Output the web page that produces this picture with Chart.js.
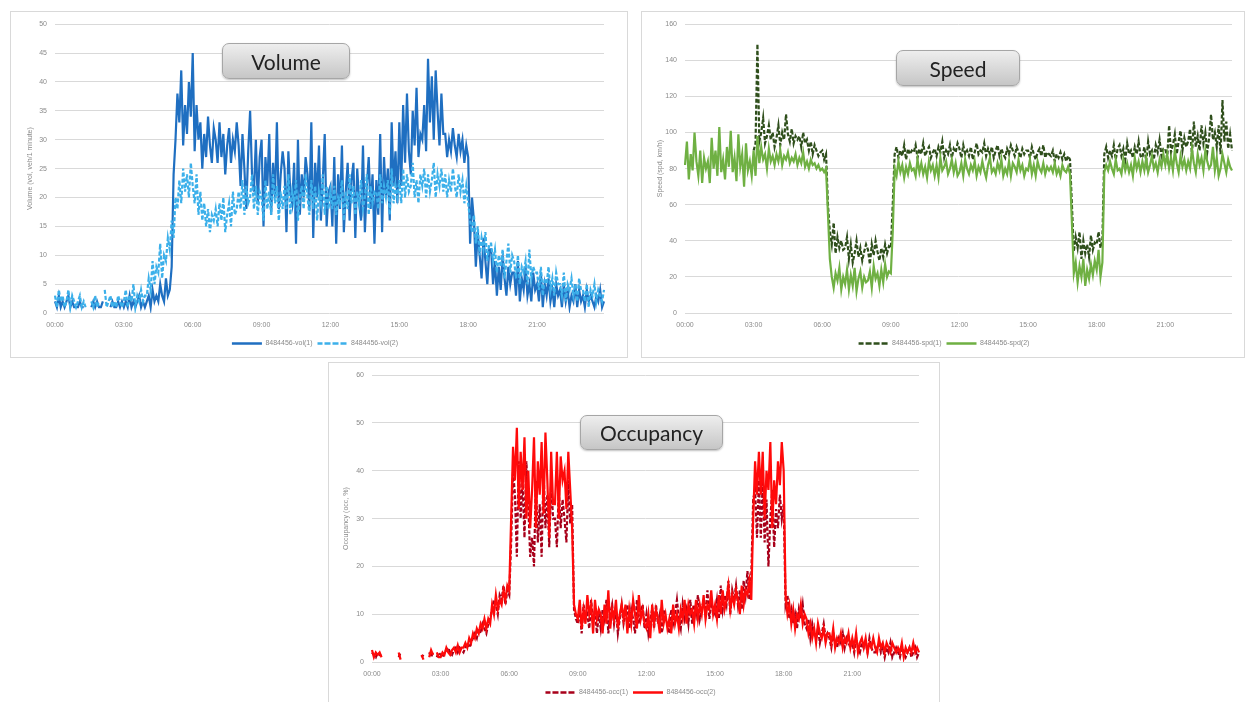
<!DOCTYPE html>
<html>
<head>
<meta charset="utf-8">
<script src="https://cdn.jsdelivr.net/npm/chart.js@4.4.1/dist/chart.umd.min.js"></script>
<style>
  html, body { margin: 0; padding: 0; background: #fff; width: 1246px; height: 702px; overflow: hidden; font-family: "Liberation Sans", Arial, sans-serif; }
  .panel { position: absolute; border: 1px solid #d9d9d9; box-sizing: border-box; background: #fff; }
  .panel canvas { position: absolute; left: 0; top: 0; }
  .tag { position: absolute; box-sizing: border-box; border: 1px solid #a6a6a6; border-radius: 7px;
         background: linear-gradient(#eeeeee, #c6c6c6); box-shadow: 0 1px 2px rgba(0,0,0,0.25);
         font-family: Lato, "Open Sans", sans-serif; font-size: 21px; color: #222;
         display: flex; align-items: center; justify-content: center; }
</style>
</head>
<body>
<div class="panel" style="left:10px;top:11px;width:618px;height:347px"><canvas id="volChart" width="616" height="345"></canvas></div>
<div class="panel" style="left:641px;top:11px;width:604px;height:347px"><canvas id="spdChart" width="602" height="345"></canvas></div>
<div class="panel" style="left:328px;top:362px;width:612px;height:345px"><canvas id="occChart" width="610" height="343"></canvas></div>

<div class="tag" style="left:222px;top:43px;width:128px;height:36px">Volume</div>
<div class="tag" style="left:896px;top:50px;width:124px;height:36px">Speed</div>
<div class="tag" style="left:580px;top:415px;width:143px;height:35px">Occupancy</div>

<script>
// 5-minute time slots over one day
const times = [];
for (let m = 0; m < 1440; m += 5) {
  times.push(String(Math.floor(m / 60)).padStart(2, '0') + ':' + String(m % 60).padStart(2, '0'));
}
const hourTicks = ['00:00', '03:00', '06:00', '09:00', '12:00', '15:00', '18:00', '21:00'];

// Volume, veh per minute (detector 8484456, lanes 1 and 2) — one row per hour
const vol1 = [
  2,1,3,1,2,1,2,3,1,2,1,1,
  1,2,1,1,null,null,null,1,2,1,2,1,
  1,2,null,null,null,1,2,1,1,2,1,2,
  1,2,1,3,1,2,1,2,3,1,2,1,
  2,3,1,4,2,3,2,5,3,2,6,3,
  4,8,24,30,38,33,42,29,36,31,40,34,
  45,28,36,30,33,25,31,27,34,29,26,32,
  30,26,33,27,31,24,29,32,26,30,28,33,
  29,22,31,25,18,28,35,24,21,30,19,27,
  30,15,27,22,31,17,26,20,33,18,24,28,
  25,14,28,21,19,26,12,30,17,24,20,27,
  24,18,33,13,26,20,29,16,23,31,15,21,
  22,15,27,12,24,18,29,14,21,26,16,23,
  26,13,25,19,16,29,14,22,27,18,24,12,
  23,17,31,14,27,20,25,16,33,22,28,19,
  33,22,36,26,38,28,24,35,29,39,27,31,
  30,36,28,44,33,41,30,42,35,29,38,31,
  31,27,30,28,32,29,27,31,28,30,26,29,
  27,12,20,16,8,14,10,6,13,9,5,11,
  11,5,9,3,8,4,10,6,3,8,5,7,
  7,3,9,2,6,4,8,3,5,2,7,4,
  5,2,7,1,5,3,6,2,4,1,5,3,
  4,1,5,2,4,1,3,2,5,1,4,2,
  3,1,4,2,3,2,1,3,2,4,1,2
];
const vol2 = [
  3,1,4,2,3,1,2,4,1,3,2,1,
  2,3,1,2,1,null,null,2,1,3,1,2,
  null,null,4,1,2,3,1,2,1,3,2,1,
  2,4,1,3,2,5,1,3,2,4,2,3,
  3,6,4,9,5,8,7,12,6,10,9,13,
  11,16,13,20,18,23,19,25,21,24,20,26,
  22,19,24,17,21,16,19,15,18,14,17,16,
  18,15,19,16,20,14,17,19,15,21,17,18,
  21,18,23,17,22,19,20,24,18,22,17,21,
  20,16,23,18,21,17,24,19,22,16,21,18,
  22,18,24,17,21,19,23,16,20,22,18,24,
  20,17,23,18,22,16,21,19,24,17,22,18,
  21,18,22,17,20,19,23,16,21,18,24,19,
  22,17,21,19,23,18,20,24,17,22,19,21,
  21,18,24,19,22,20,23,17,25,19,22,20,
  23,19,25,20,24,21,22,26,20,23,19,24,
  22,25,20,24,21,23,26,20,24,22,25,21,
  24,20,23,21,25,22,20,24,21,23,19,22,
  19,16,14,17,12,15,10,13,11,14,9,12,
  12,9,11,7,10,8,11,6,9,12,7,10,
  9,6,10,5,8,7,9,5,11,6,8,7,
  7,4,8,3,6,5,8,4,6,3,7,5,
  5,3,7,2,5,4,6,3,5,2,6,4,
  4,2,5,1,4,3,5,2,4,3,2,4
];

// Speed, km/h
const spd1 = [
  null,null,null,null,null,null,null,null,null,null,null,null,
  null,null,null,null,null,null,null,null,null,null,null,null,
  null,null,null,null,null,null,null,null,null,null,null,null,
  90,94,149,95,100,108,94,98,104,96,100,92,
  97,104,93,100,96,110,99,95,102,94,98,96,
  98,92,100,94,96,90,95,88,93,90,87,89,
  90,85,88,60,45,38,50,33,42,36,40,35,
  36,42,30,38,28,33,40,31,36,29,34,38,
  35,27,38,32,40,34,29,36,31,38,33,37,
  36,60,88,92,86,90,87,93,85,91,88,90,
  89,93,86,91,88,94,87,90,92,86,89,91,
  87,92,89,95,86,90,88,93,86,91,89,94,
  91,86,93,88,90,87,92,85,89,94,88,90,
  89,94,87,91,88,92,86,90,93,87,91,88,
  86,91,88,93,90,87,92,89,86,91,88,90,
  90,86,92,88,85,89,91,87,93,86,89,88,
  87,90,84,88,86,89,85,88,84,87,85,60,
  34,42,36,45,30,40,33,38,31,43,35,39,
  38,45,36,41,88,92,86,90,87,93,85,91,
  93,87,91,85,94,88,90,86,92,88,95,87,
  86,92,84,95,88,90,85,93,89,96,87,91,
  91,86,104,89,93,99,88,95,101,90,97,92,
  95,102,88,106,92,98,90,104,94,100,89,97,
  110,96,100,92,104,88,118,95,106,91,99,90
];
const spd2 = [
  82,95,74,88,79,100,84,76,90,72,86,80,
  84,72,97,80,90,76,103,78,85,74,92,81,
  101,78,86,73,99,81,88,70,94,79,84,76,
  90,76,98,83,92,85,88,80,91,84,87,82,
  88,84,90,82,87,85,89,83,86,84,88,82,
  86,83,89,81,84,80,85,82,83,80,82,79,
  80,78,80,55,30,20,14,22,18,25,13,20,
  16,24,13,21,15,25,12,19,23,14,20,17,
  18,23,14,26,19,22,15,24,17,27,20,23,
  22,45,80,76,84,78,82,75,81,77,83,79,
  80,76,85,78,83,77,81,75,84,79,82,76,
  82,75,86,79,81,84,77,80,85,78,83,76,
  78,83,76,85,80,77,82,79,84,76,81,78,
  84,79,75,82,86,78,80,77,83,79,85,76,
  80,77,84,76,83,81,78,85,79,82,76,80,
  79,85,77,82,76,84,80,78,83,77,81,79,
  81,78,83,77,80,76,82,79,78,81,77,50,
  22,28,17,26,20,30,15,24,19,27,21,29,
  24,35,20,28,78,82,79,84,80,77,85,79,
  80,77,85,79,83,78,82,76,86,80,84,78,
  84,79,86,78,82,87,80,83,78,85,81,88,
  82,88,80,86,79,90,83,78,87,81,85,79,
  84,80,91,83,78,88,82,86,79,90,84,80,
  82,92,79,86,76,80,88,83,78,85,81,79
];

// Occupancy, %
const occ1 = [
  2,1.5,1,2,1.5,2,null,null,null,null,null,null,
  null,null,1,2,null,null,null,null,null,null,null,null,
  null,null,1,1.5,null,null,2,1,2,null,1,2,
  1.5,1,2,2.5,3,2,1.5,2.5,3,2,3,2.5,
  2,3,4,3,4,5,6,5,7,6,8,7,
  6,8,9,11,13,12,10,14,13,16,12,15,
  14,25,40,35,22,42,30,38,26,42,33,22,
  26,20,38,25,33,22,40,28,35,24,38,30,
  30,24,36,28,34,30,25,38,29,33,11,9,
  8,11,6,12,9,10,7,13,8,11,6,10,
  7,11,9,13,6,10,12,8,11,6,9,12,
  8,10,12,7,11,9,6,13,8,10,12,7,
  10,6,9,11,7,12,8,10,6,11,9,8,
  6,11,8,10,13,9,7,12,9,11,8,13,
  8,12,10,14,9,11,13,10,15,9,12,11,
  10,13,9,16,11,14,12,17,10,15,13,16,
  12,15,11,17,14,19,13,18,34,36,26,38,
  26,38,25,34,20,30,36,24,32,28,35,30,
  33,12,14,9,11,8,10,7,11,9,12,8,
  7,9,5,8,6,5,7,4,6,8,5,6,
  5,3,6,4,3,5,4,6,3,5,4,3,
  4,2,5,3,2,4,3,4,2,5,3,2,
  2,3,4,2,3,1,3,2,4,1,2,3,
  2,1,3,2,1,2,3,1,2,3,1,2
];
const occ2 = [
  2.5,1,2,1.5,2,1,null,null,null,null,null,null,
  null,null,2,0.5,null,null,null,null,null,null,null,null,
  null,null,1.5,0.5,null,null,1,2.5,1.5,null,2,1,
  1,2,1.5,3,2,1.5,2.5,3,2,3.5,2,3,
  3,4,3,5,4,6,5,7,6,8,7,9,
  7,9,8,12,10,14,11,13,12,15,13,16,
  15,30,45,38,49,32,44,36,47,30,40,28,
  36,47,28,42,35,46,31,48,38,26,44,33,
  33,44,30,43,38,40,32,44,36,28,12,10,
  9,13,7,11,8,14,10,12,6,13,9,11,
  10,6,12,8,15,7,11,9,13,7,10,12,
  9,12,6,11,8,13,10,7,14,9,11,8,
  7,10,5,12,8,11,9,6,13,8,10,7,
  9,6,12,8,10,7,11,9,13,8,12,10,
  11,8,13,9,12,10,14,9,12,11,15,10,
  12,9,14,10,15,11,13,16,11,14,12,15,
  13,10,16,12,15,14,17,13,30,42,35,44,
  35,44,30,40,36,46,28,38,33,42,37,46,
  40,14,10,12,8,11,7,10,9,12,8,10,
  9,6,8,5,7,4,8,6,5,7,4,6,
  6,4,7,3,5,4,6,3,5,4,6,3,
  5,3,6,2,4,5,3,5,2,4,3,5,
  3,2,5,3,4,2,4,3,2,4,3,2,
  3,2,4,1,3,2,3,2,4,2,3,2
];

const axisColor = '#8a8a8a';
const smallFont = { family: '"Liberation Sans", Arial, sans-serif', size: 7 };

function series(label, data, color, dashed, order) {
  return {
    label, data,
    borderColor: color, backgroundColor: color,
    borderWidth: 2.2, borderDash: dashed ? [4, 2] : [],
    pointRadius: 0, tension: 0, spanGaps: false, order
  };
}

// legend entries drawn as short line samples, dashed where the series is dashed
function legendItems(chart) {
  return Chart.defaults.plugins.legend.labels.generateLabels(chart).map(item => ({
    ...item,
    lineWidth: 2.5,
    lineDash: item.lineDash && item.lineDash.length ? [5, 3] : []
  }));
}

function lineChart(id, datasets, yMax, yStep, yTitle, pad, yWidth) {
  return new Chart(document.getElementById(id), {
    type: 'line',
    data: { labels: times, datasets },
    options: {
      responsive: false, animation: false, events: [],
      layout: { padding: pad },
      plugins: {
        tooltip: { enabled: false },
        legend: {
          position: 'bottom',
          labels: {
            boxWidth: 30, boxHeight: 0, padding: 5, color: axisColor, font: smallFont,
            generateLabels: legendItems,
            sort: (a, b) => a.datasetIndex - b.datasetIndex
          }
        }
      },
      scales: {
        x: {
          grid: { display: false, drawTicks: false }, border: { display: false },
          ticks: {
            autoSkip: false, maxRotation: 0, minRotation: 0, padding: 8,
            color: axisColor, font: smallFont,
            callback: (v, i) => hourTicks.includes(times[i]) ? times[i] : null
          },
          afterFit: s => { s.height = 22; }
        },
        y: {
          min: 0, max: yMax,
          ticks: { stepSize: yStep, padding: 8, color: axisColor, font: smallFont },
          grid: { color: '#d9d9d9', lineWidth: 1, drawTicks: false },
          border: { display: false },
          title: { display: true, text: yTitle, color: axisColor, font: smallFont, padding: 0 },
          afterFit: s => { s.width = yWidth; }
        }
      }
    }
  });
}

lineChart('volChart', [
  series('8484456-vol(1)', vol1, '#1f6fc1', false, 1),
  series('8484456-vol(2)', vol2, '#3cb0ea', true, 0)
], 50, 5, 'Volume (vol, veh/1 minute)', { left: 15, right: 23, top: 10, bottom: 0 }, 29);

lineChart('spdChart', [
  series('8484456-spd(1)', spd1, '#2f4f1c', true, 1),
  series('8484456-spd(2)', spd2, '#6fb043', false, 0)
], 160, 20, 'Speed (spd, km/h)', { left: 14, right: 12, top: 10, bottom: 0 }, 29);

lineChart('occChart', [
  series('8484456-occ(1)', occ1, '#a8001a', true, 1),
  series('8484456-occ(2)', occ2, '#ff0a0a', false, 0)
], 60, 10, 'Occupancy (occ, %)', { left: 13, right: 20, top: 8, bottom: 0 }, 30);
</script>
</body>
</html>
